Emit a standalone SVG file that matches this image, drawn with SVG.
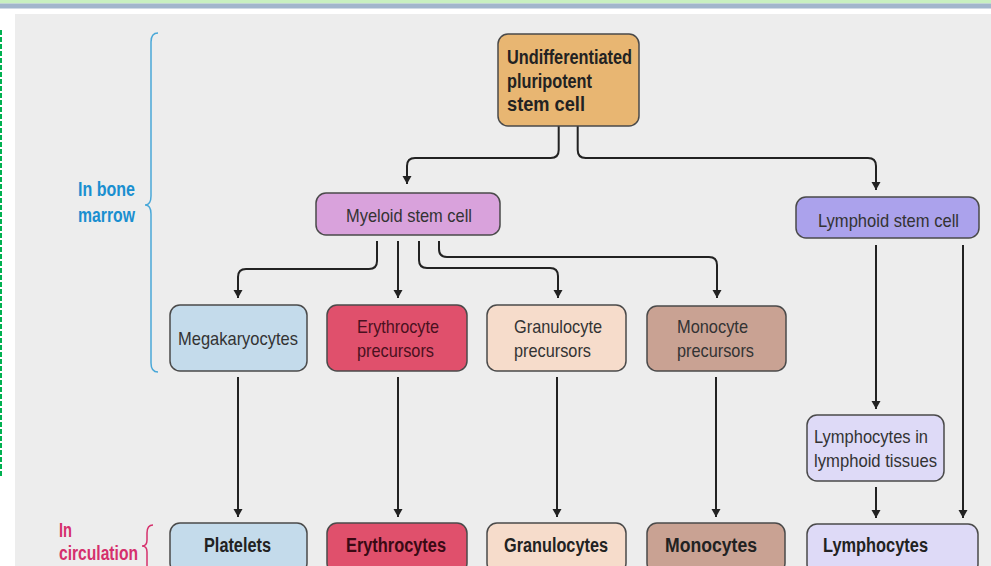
<svg xmlns="http://www.w3.org/2000/svg" width="991" height="566" viewBox="0 0 991 566">
<defs>
<marker id="ah" viewBox="0 0 8 14" refX="8" refY="7" markerWidth="8" markerHeight="14" markerUnits="userSpaceOnUse" orient="auto">
<path d="M0,2.5 L8,7 L0,11.5 Z" fill="#222"/>
</marker>
<style>
.box{stroke:#4a4a4a;stroke-width:1.5}
.t{font-family:"Liberation Sans",Arial,sans-serif;font-size:19px;fill:#333}
.b{font-family:"Liberation Sans",Arial,sans-serif;font-size:19.5px;font-weight:bold;fill:#222}
.c{fill:none;stroke:#222;stroke-width:2;marker-end:url(#ah)}
.lb{font-family:"Liberation Sans",Arial,sans-serif;font-size:19.5px;font-weight:bold}
</style>
</defs>
<rect x="0" y="0" width="991" height="566" fill="#ffffff"/>
<rect x="0" y="0" width="991" height="3.5" fill="#c8f0c0"/>
<rect x="0" y="3.5" width="991" height="5" fill="#a2b6cc"/>
<rect x="15" y="14" width="976" height="552" fill="#ededed"/>
<line x1="1" y1="30" x2="1" y2="477" stroke="#00b050" stroke-width="2" stroke-dasharray="5 2"/>

<g id="labels">
<text class="lb" x="78" y="196" fill="#1a8fd0" textLength="57" lengthAdjust="spacingAndGlyphs">In bone</text>
<text class="lb" x="78" y="222" fill="#1a8fd0" textLength="57" lengthAdjust="spacingAndGlyphs">marrow</text>
<path d="M158,33 Q151,33 151,42 V196 Q151,205 145,205 Q151,205 151,214 V363 Q151,372 158,372" fill="none" stroke="#4aa8d8" stroke-width="1.5"/>
<text class="lb" x="59" y="537" fill="#d5306c" textLength="13" lengthAdjust="spacingAndGlyphs">In</text>
<text class="lb" x="59" y="560" fill="#d5306c" textLength="79" lengthAdjust="spacingAndGlyphs">circulation</text>
<path d="M153,525 Q147,525 147,533 V540 Q147,546 142,546 Q147,546 147,552 V566" fill="none" stroke="#d5306c" stroke-width="1.5"/>
</g>

<g id="connectors">
<path class="c" d="M558.7,126 V150 Q558.7,158 550.7,158 H415 Q407,158 407,166 V184"/>
<path class="c" d="M577.7,126 V150 Q577.7,158 585.7,158 H868 Q876,158 876,166 V190"/>
<path class="c" d="M377,241 V261 Q377,269 369,269 H246 Q238,269 238,277 V298"/>
<path class="c" d="M398,241 V298"/>
<path class="c" d="M419,241 V260 Q419,268 427,268 H550 Q558,268 558,276 V298"/>
<path class="c" d="M439,241 V249 Q439,257 447,257 H709 Q717,257 717,265 V298"/>
<path class="c" d="M238,377 V517"/>
<path class="c" d="M398,377 V517"/>
<path class="c" d="M557,377 V517"/>
<path class="c" d="M716,377 V517"/>
<path class="c" d="M876,245 V409"/>
<path class="c" d="M876,487 V518"/>
<path class="c" d="M963,245 V518"/>
</g>

<g id="stem">
<rect class="box" x="498" y="34" width="141" height="92" rx="10" fill="#e8b672"/>
<text class="b" x="507" y="64" textLength="125" lengthAdjust="spacingAndGlyphs">Undifferentiated</text>
<text class="b" x="507" y="87.5" textLength="85" lengthAdjust="spacingAndGlyphs">pluripotent</text>
<text class="b" x="507" y="111" textLength="78" lengthAdjust="spacingAndGlyphs">stem cell</text>
</g>

<g id="myeloid">
<rect class="box" x="316" y="193" width="184" height="42" rx="10" fill="#d9a2dc"/>
<text class="t" x="346" y="222" textLength="126" lengthAdjust="spacingAndGlyphs">Myeloid stem cell</text>
</g>

<g id="lymphoid">
<rect class="box" x="796" y="197" width="183" height="41" rx="10" fill="#aba2ec"/>
<text class="t" x="818" y="227" textLength="141" lengthAdjust="spacingAndGlyphs">Lymphoid stem cell</text>
</g>

<g id="megakaryocytes">
<rect class="box" x="170" y="305" width="137" height="66" rx="10" fill="#c4dbeb"/>
<text class="t" x="178" y="345" textLength="120" lengthAdjust="spacingAndGlyphs">Megakaryocytes</text>
</g>

<g id="erythro-pre">
<rect class="box" x="327" y="305" width="140" height="66" rx="10" fill="#e0506c"/>
<text class="t" x="357" y="333" textLength="82" lengthAdjust="spacingAndGlyphs" style="fill:#4a1020">Erythrocyte</text>
<text class="t" x="357" y="357" textLength="77" lengthAdjust="spacingAndGlyphs" style="fill:#4a1020">precursors</text>
</g>

<g id="granulo-pre">
<rect class="box" x="487" y="305" width="139" height="66" rx="10" fill="#f6dccb"/>
<text class="t" x="514" y="333" textLength="88" lengthAdjust="spacingAndGlyphs">Granulocyte</text>
<text class="t" x="514" y="357" textLength="77" lengthAdjust="spacingAndGlyphs">precursors</text>
</g>

<g id="mono-pre">
<rect class="box" x="647" y="306" width="139" height="65" rx="10" fill="#c9a293"/>
<text class="t" x="677" y="333" textLength="71" lengthAdjust="spacingAndGlyphs">Monocyte</text>
<text class="t" x="677" y="357" textLength="77" lengthAdjust="spacingAndGlyphs">precursors</text>
</g>

<g id="lymph-tissue">
<rect class="box" x="807" y="415" width="137" height="66" rx="10" fill="#dedaf7"/>
<text class="t" x="814" y="443" textLength="114" lengthAdjust="spacingAndGlyphs">Lymphocytes in</text>
<text class="t" x="814" y="467" textLength="123" lengthAdjust="spacingAndGlyphs">lymphoid tissues</text>
</g>

<g id="platelets">
<rect class="box" x="170" y="523" width="137" height="50" rx="10" fill="#c4dbeb"/>
<text class="b" x="204" y="552" textLength="67" lengthAdjust="spacingAndGlyphs">Platelets</text>
</g>

<g id="erythrocytes">
<rect class="box" x="327" y="523" width="140" height="50" rx="10" fill="#e0506c"/>
<text class="b" x="346" y="552" textLength="100" lengthAdjust="spacingAndGlyphs" style="fill:#3a0a14">Erythrocytes</text>
</g>

<g id="granulocytes">
<rect class="box" x="487" y="523" width="139" height="50" rx="10" fill="#f6dccb"/>
<text class="b" x="504" y="552" textLength="104" lengthAdjust="spacingAndGlyphs">Granulocytes</text>
</g>

<g id="monocytes">
<rect class="box" x="647" y="523" width="138" height="50" rx="10" fill="#c9a293"/>
<text class="b" x="665" y="552" textLength="92" lengthAdjust="spacingAndGlyphs">Monocytes</text>
</g>

<g id="lymphocytes">
<rect class="box" x="807" y="524" width="171" height="50" rx="10" fill="#dedaf7"/>
<text class="b" x="823" y="552" textLength="105" lengthAdjust="spacingAndGlyphs">Lymphocytes</text>
</g>
</svg>
